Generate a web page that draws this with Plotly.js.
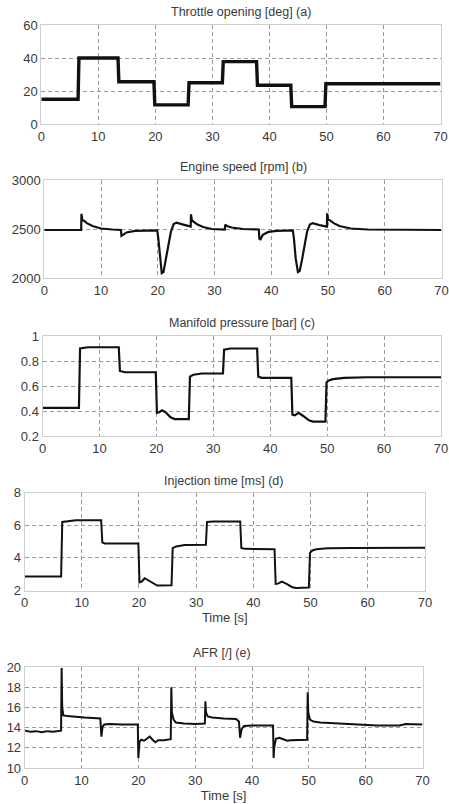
<!DOCTYPE html>
<html>
<head>
<meta charset="utf-8">
<script src="https://cdn.plot.ly/plotly-3.0.1.min.js"></script>
<style>
  html, body { margin: 0; padding: 0; background: #fff; }
  #chart { width: 449px; height: 804px; overflow: hidden; }
</style>
</head>
<body>
<div id="chart"></div>
<script>
// ---- Measured engine signals, time in seconds ----
const throttleTime = [0, 6.45, 6.6, 13.45, 13.6, 19.75, 19.9, 25.75, 25.9, 31.75, 31.9, 37.75, 37.9, 43.75, 43.9, 49.75, 49.9, 70];
const throttleDeg  = [15, 15, 40, 40, 25.6, 25.6, 11.6, 11.6, 25, 25, 37.8, 37.8, 23.5, 23.5, 10.5, 10.5, 24.4, 24.4];

const speedTime = [0, 6.5, 6.55, 6.7, 7, 7.5, 8.5, 10, 12,
                   13.5, 13.6, 13.8, 14.5, 16,
                   19.9, 20.1, 20.4, 20.7, 21.0, 21.4, 21.8, 22.3, 22.8, 23.3, 24.5,
                   25.8, 25.85, 26.0, 26.3, 27, 28, 29.5,
                   31.8, 31.9, 32.2, 33, 35,
                   37.8, 37.9, 38.1, 38.5, 39.5, 41,
                   43.8, 44.0, 44.3, 44.7, 45.0, 45.4, 45.8, 46.3, 46.8, 47.3, 48.5,
                   49.8, 49.85, 50.0, 50.3, 51, 52, 54, 57, 70];
const speedRpm  = [2490, 2490, 2655, 2590, 2585, 2560, 2530, 2505, 2495,
                   2490, 2430, 2440, 2465, 2480,
                   2485, 2400, 2200, 2050, 2060, 2180, 2330, 2470, 2550, 2565, 2545,
                   2525, 2650, 2590, 2575, 2545, 2520, 2500,
                   2495, 2545, 2530, 2515, 2500,
                   2495, 2400, 2395, 2440, 2470, 2480,
                   2485, 2400, 2200, 2060, 2070, 2180, 2330, 2470, 2545, 2560, 2540,
                   2525, 2660, 2600, 2590, 2560, 2530, 2505, 2495, 2490];

const mapTime = [0, 6.4, 6.6, 8,
                 13.4, 13.6, 14.5,
                 19.9, 20.1, 20.5, 21, 21.6, 22.5, 23.2, 25.7,
                 25.9, 26.5, 28, 31.7,
                 31.9, 33, 37.7,
                 37.9, 38.5, 43.7,
                 43.9, 44.3, 45, 45.8, 46.8, 47.5, 49.7,
                 49.9, 50.3, 51, 53, 57, 70];
const mapBar  = [0.425, 0.425, 0.9, 0.91,
                 0.91, 0.72, 0.71,
                 0.71, 0.385, 0.39, 0.405, 0.39, 0.35, 0.335, 0.335,
                 0.675, 0.69, 0.70, 0.70,
                 0.89, 0.9, 0.9,
                 0.675, 0.665, 0.665,
                 0.37, 0.365, 0.385, 0.36, 0.325, 0.315, 0.315,
                 0.63, 0.645, 0.655, 0.665, 0.67, 0.67];

const injTime = [0, 6.4, 6.6, 7.5, 9,
                 13.4, 13.6, 14,
                 19.9, 20.1, 20.5, 21, 21.7, 22.5, 23.2, 25.7,
                 25.9, 26.5, 28, 31.7,
                 31.9, 33, 37.7,
                 37.9, 38.5, 43.7,
                 43.9, 44.3, 45, 45.8, 46.8, 47.5, 49.7,
                 49.9, 50.3, 51, 53, 57, 70];
const injMs   = [2.85, 2.85, 6.2, 6.25, 6.3,
                 6.3, 4.95, 4.88,
                 4.88, 2.5, 2.55, 2.75, 2.6, 2.4, 2.3, 2.32,
                 4.6, 4.7, 4.78, 4.8,
                 6.2, 6.22, 6.22,
                 4.6, 4.55, 4.52,
                 2.4, 2.42, 2.55, 2.4, 2.2, 2.15, 2.18,
                 4.3, 4.45, 4.52, 4.58, 4.6, 4.62];

const afrTime = [0, 1, 2, 3, 4, 5, 6.4, 6.5, 6.6, 6.8,
                 7.5, 9, 10.5, 12, 13.3, 13.5, 13.7, 14, 15, 17,
                 19.9, 20.0, 20.2, 20.5, 21, 21.5, 22, 22.5, 23, 23.5,
                 24.5, 25.7, 25.8, 25.9, 26.2, 26.6, 28, 30, 31.7, 31.8,
                 31.9, 32.2, 33, 35, 37.2, 37.7, 37.9, 38.2, 38.6, 40,
                 42, 43.7, 43.8, 43.9, 44.2, 44.8, 45.5, 46.2, 46.8, 48,
                 49.7, 49.8, 49.9, 50.2, 50.8, 52, 55, 58, 62, 66,
                 67, 70];
const afrRatio = [13.7, 13.6, 13.65, 13.55, 13.65, 13.6, 13.7, 19.9, 16.0, 15.2,
                  15.15, 15.05, 15.0, 14.95, 14.9, 13.1, 14.1, 14.3, 14.35, 14.3,
                  14.3, 11.0, 12.6, 12.8, 12.7, 12.9, 13.1, 12.8, 12.55, 12.75,
                  12.75, 12.85, 18.0, 15.5, 14.8, 14.5, 14.4, 14.35, 14.4, 16.6,
                  15.5, 15.1, 15.0, 14.9, 14.85, 14.6, 13.0, 13.9, 14.15, 14.2,
                  14.2, 14.2, 11.0, 12.0, 12.9, 13.0, 12.85, 12.7, 12.75, 12.8,
                  12.8, 17.5, 15.5, 14.8, 14.6, 14.5, 14.4, 14.3, 14.2, 14.2,
                  14.35, 14.3];

// ---- Panel texts and axis settings ----
const panelTitles = ['Throttle opening [deg] (a)', 'Engine speed [rpm] (b)', 'Manifold pressure [bar] (c)',
                     'Injection time [ms] (d)', 'AFR [/] (e)'];
const xTickVals = [0, 10, 20, 30, 40, 50, 60, 70];
const yRanges = [[0, 60], [2000, 3000], [0.2, 1], [2, 8], [10, 20]];
const yTickVals = [[0, 20, 40, 60], [2000, 2500, 3000], [0.2, 0.4, 0.6, 0.8, 1], [2, 4, 6, 8], [10, 12, 14, 16, 18, 20]];
const yTickText = [['0', '20', '40', '60'], ['2000', '2500', '3000'], ['0.2', '0.4', '0.6', '0.8', '1'], ['2', '4', '6', '8'], ['10', '12', '14', '16', '18', '20']];
const xAxisTitles = ['', '', '', 'Time [s]', 'Time [s]'];

// plot boxes in pixels: [left, right, top, bottom]
const boxes = [
  [41.3, 440.5, 25, 124],
  [44.3, 441.5, 180, 278],
  [42.5, 441, 336, 436],
  [24.5, 425, 492.5, 590.5],
  [24.7, 422.5, 667, 768]
];
const titleCenters = [[241, 12], [243, 167], [242, 323], [223, 481], [222, 653]];
const lineWidths = [3.4, 2.2, 2.2, 2, 2];

const W = 449, H = 804;
const px = v => v / W;
const py = v => 1 - v / H;

const series = [
  [throttleTime, throttleDeg],
  [speedTime, speedRpm],
  [mapTime, mapBar],
  [injTime, injMs],
  [afrTime, afrRatio]
];

const textColor = '#3a3a3a';
const fontFam = '"Liberation Sans", Arial, Helvetica, sans-serif';

const traces = [];
const layout = {
  width: W, height: H,
  margin: {l: 0, r: 0, t: 0, b: 0},
  paper_bgcolor: '#fff',
  plot_bgcolor: '#fff',
  showlegend: false,
  font: {family: fontFam, size: 13, color: textColor},
  annotations: []
};

series.forEach((s, i) => {
  const n = i === 0 ? '' : String(i + 1);
  traces.push({
    x: s[0], y: s[1],
    xaxis: 'x' + n, yaxis: 'y' + n,
    type: 'scatter', mode: 'lines',
    line: {color: '#111', width: lineWidths[i]},
    hoverinfo: 'skip'
  });
  const b = boxes[i];
  const axCommon = {
    showline: true, mirror: true, linecolor: '#cfcfcf', linewidth: 1,
    showgrid: true, gridcolor: '#9a9a9a', gridwidth: 1, griddash: '4px,3px',
    zeroline: false, ticks: '', fixedrange: true,
    ticklabeloverflow: 'allow',
    tickfont: {family: fontFam, size: 13, color: textColor}
  };
  layout['xaxis' + n] = Object.assign({}, axCommon, {
    domain: [px(b[0]), px(b[1])],
    range: [0, 70],
    tickvals: xTickVals,
    anchor: 'y' + n,
    title: xAxisTitles[i] ? {text: xAxisTitles[i], font: {size: 13, color: textColor}, standoff: 2} : {text: ''}
  });
  layout['yaxis' + n] = Object.assign({}, axCommon, {
    domain: [py(b[3]), py(b[2])],
    range: yRanges[i],
    tickvals: yTickVals[i],
    ticktext: yTickText[i],
    anchor: 'x' + n
  });
  layout.annotations.push({
    text: panelTitles[i],
    xref: 'paper', yref: 'paper',
    x: px(titleCenters[i][0]), y: py(titleCenters[i][1]),
    xanchor: 'center', yanchor: 'middle',
    showarrow: false,
    font: {family: fontFam, size: 12.5, color: textColor}
  });
});

Plotly.newPlot('chart', traces, layout, {staticPlot: true, displayModeBar: false});
</script>
</body>
</html>
